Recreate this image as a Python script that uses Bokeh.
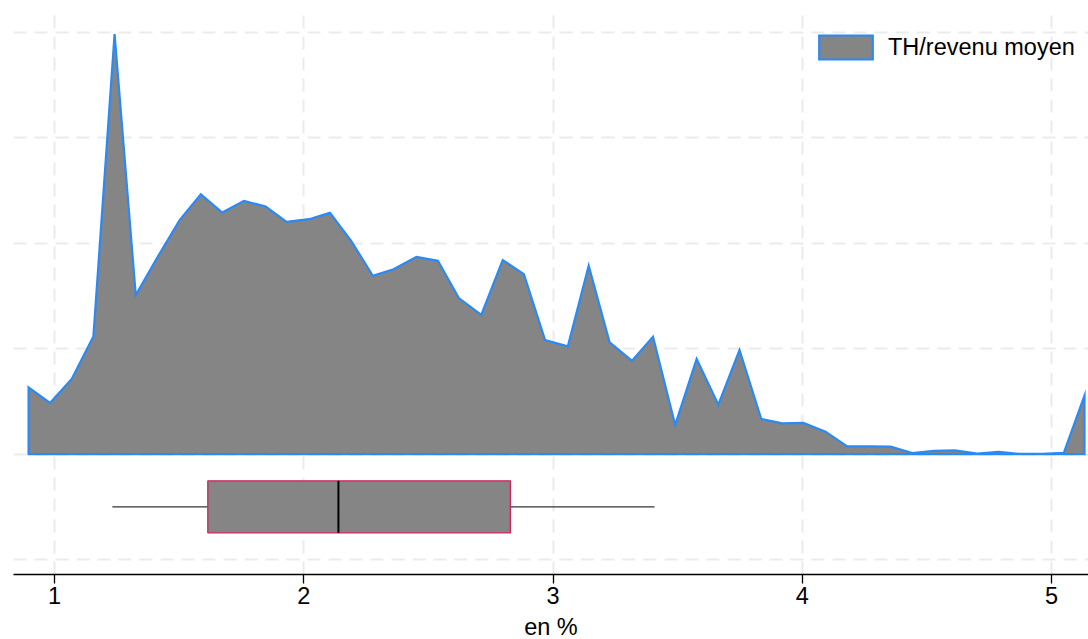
from bokeh.plotting import figure
from bokeh.models import FixedTicker, Range1d, Legend, LegendItem
from bokeh.embed import file_html
from bokeh.resources import INLINE

# Density of TH / revenu moyen (en %)
dens_x = [0.896, 0.982, 1.069, 1.156, 1.241, 1.326, 1.414, 1.502, 1.587, 1.673,
          1.760, 1.847, 1.931, 2.021, 2.105, 2.190, 2.277, 2.360, 2.452, 2.538,
          2.622, 2.712, 2.798, 2.883, 2.968, 3.059, 3.143, 3.227, 3.317, 3.401,
          3.490, 3.576, 3.663, 3.748, 3.835, 3.919, 4.004, 4.093, 4.180, 4.267,
          4.354, 4.441, 4.528, 4.612, 4.702, 4.789, 4.873, 4.963, 5.049, 5.132]
dens_y = [0.633, 0.485, 0.713, 1.117, 3.986, 1.509, 1.872, 2.220, 2.466, 2.292,
          2.403, 2.349, 2.204, 2.229, 2.289, 2.024, 1.692, 1.754, 1.872, 1.834,
          1.481, 1.322, 1.841, 1.708, 1.082, 1.022, 1.787, 1.060, 0.886, 1.114,
          0.277, 0.902, 0.469, 0.988, 0.334, 0.292, 0.296, 0.213, 0.074, 0.074,
          0.071, 0.011, 0.030, 0.036, 0.005, 0.021, 0.002, 0.002, 0.011, 0.555]

# Box plot statistics
box_whisker_low = 1.232
box_q1 = 1.615
box_median = 2.139
box_q3 = 2.829
box_whisker_high = 3.407
box_center = -0.5
box_height = 0.493

x_ticks = [1, 2, 3, 4, 5]
y_grid = [-1, 0, 1, 2, 3, 4]
series_label = "TH/revenu moyen"
x_title = "en %"

FONT = "Liberation Sans"
FS = "23.5px"

p = figure(frame_width=1075, frame_height=562, output_backend="svg", toolbar_location=None,
           x_range=Range1d(0.8355, 5.148), y_range=Range1d(-1.142, 4.19),
           min_border_left=13, min_border_right=0, min_border_top=12, min_border_bottom=0)
p.outline_line_color = None
p.background_fill_color = "white"
p.border_fill_color = "white"

# grids
p.xgrid.ticker = FixedTicker(ticks=x_ticks)
p.ygrid.ticker = FixedTicker(ticks=y_grid)
for g in (p.xgrid, p.ygrid):
    g.grid_line_color = "#ebebeb"
    g.grid_line_width = 2
    g.grid_line_dash = "13 8"

# axes
p.yaxis.visible = False
ax = p.xaxis[0]
ax.ticker = FixedTicker(ticks=x_ticks)
ax.axis_line_color = "black"
ax.axis_line_width = 1.3
ax.major_tick_line_color = "black"
ax.major_tick_line_width = 1.3
ax.major_tick_out = 9
ax.major_tick_in = 0
ax.minor_tick_line_color = None
ax.major_label_text_font = FONT
ax.major_label_text_font_size = FS
ax.major_label_text_color = "black"
ax.major_label_standoff = 3
ax.axis_label = x_title
ax.axis_label_text_font = FONT
ax.axis_label_text_font_size = FS
ax.axis_label_text_font_style = "normal"
ax.axis_label_text_color = "black"
ax.axis_label_standoff = 7

# density area
px = [dens_x[0]] + dens_x + [dens_x[-1]]
py = [0.0] + dens_y + [0.0]
area = p.patch(px, py, fill_color="#858585", line_color="#2a8af5", line_width=2.2,
               line_join="miter")

# box plot
p.segment(x0=[box_whisker_low, box_q3], x1=[box_q1, box_whisker_high],
          y0=[box_center, box_center], y1=[box_center, box_center],
          line_color="#333333", line_width=1.3)
p.hbar(y=[box_center], left=[box_q1], right=[box_q3], height=box_height,
       fill_color="#858585", line_color="#d2205c", line_width=1.3)
p.segment(x0=[box_median], x1=[box_median],
          y0=[box_center - box_height / 2], y1=[box_center + box_height / 2],
          line_color="black", line_width=2)

legend = Legend(items=[LegendItem(label=series_label, renderers=[area])],
                location=(799, 512))
legend.border_line_color = None
legend.background_fill_alpha = 0
legend.label_text_font = FONT
legend.label_text_font_size = FS
legend.label_text_color = "black"
legend.glyph_width = 67
legend.glyph_height = 30
legend.label_standoff = 9
legend.margin = 0
legend.padding = 0
p.add_layout(legend)

open("out.html", "w").write(file_html(p, INLINE))
